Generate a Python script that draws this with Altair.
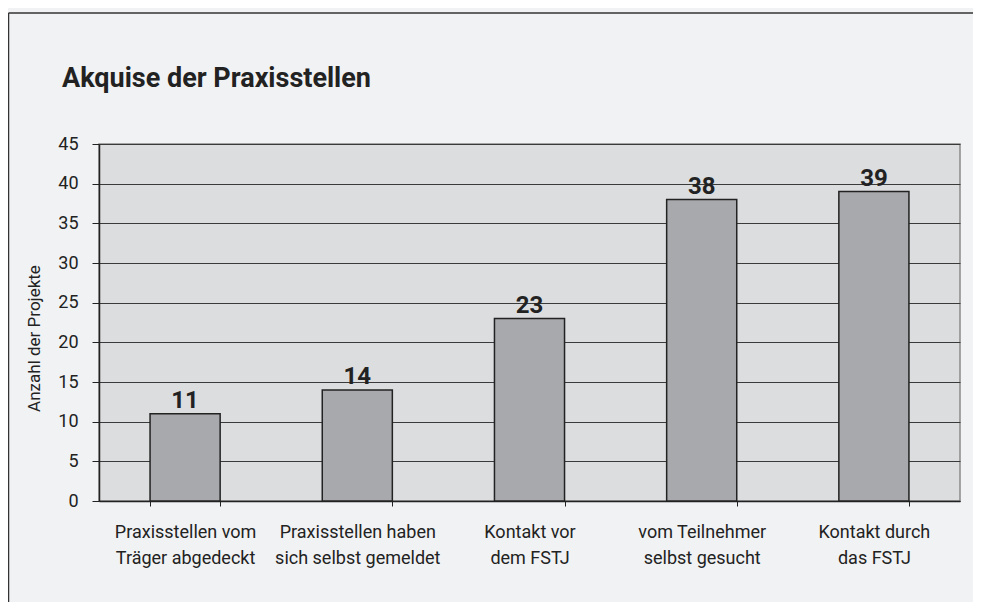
import altair as alt
import pandas as pd

categories = [
    "Praxisstellen vom\nTräger abgedeckt",
    "Praxisstellen haben\nsich selbst gemeldet",
    "Kontakt vor\ndem FSTJ",
    "vom Teilnehmer\nselbst gesucht",
    "Kontakt durch\ndas FSTJ",
]
values = [11, 14, 23, 38, 39]
title_text = "Akquise der Praxisstellen"
y_title = "Anzahl der Projekte"
y_ticks = [0, 5, 10, 15, 20, 25, 30, 35, 40, 45]

df = pd.DataFrame({"cat": categories, "val": values})

FONT = "Roboto, Liberation Sans, sans-serif"

x_enc = alt.X(
    "cat:N",
    sort=categories,
    title=None,
    scale=alt.Scale(paddingInner=0.593, paddingOuter=0.2965),
    axis=alt.Axis(
        labelAngle=0,
        labelExpr="split(datum.label, '\\n')",
        labelLineHeight=26,
        labelFontSize=18,
        labelColor="#222222",
        labelPadding=17,
        labelLimit=0,
        tickBand="extent",
        tickSize=5,
        tickColor="#222222",
        domainColor="#222222",
        domainWidth=1.5,
        grid=False,
    ),
)
y_enc = alt.Y(
    "val:Q",
    title=y_title,
    scale=alt.Scale(domain=[0, 45], nice=False),
    axis=alt.Axis(
        values=y_ticks,
        labelOverlap=False,
        labelFontSize=18,
        labelColor="#222222",
        labelPadding=14,
        tickSize=7,
        tickColor="#222222",
        domainColor="#222222",
        domainWidth=1.5,
        gridColor="#3a3a3a",
        gridWidth=1,
        titleFontSize=17,
        titleFontWeight="normal",
        titleColor="#222222",
        titleAngle=270,
        titleBaseline="alphabetic",
        titleAlign="center",
        titleX=-60,
        titleY=194,
    ),
)

base = alt.Chart(df)

bars = base.mark_bar(
    color="#a8a9ac", stroke="#222222", strokeWidth=1.5
).encode(x=x_enc, y=y_enc)

labels = base.mark_text(
    fontSize=24, fontWeight="bold", color="#222222", baseline="alphabetic", dy=-6, font=FONT
).encode(x=x_enc, y=y_enc, text="val:Q")

one = pd.DataFrame({"f": [0]})
frame_left = alt.Chart(one).mark_rule(stroke="#333333", strokeWidth=1.5).encode(
    x=alt.value(-90.5), y=alt.value(-131), y2=alt.value(3000)
)
frame_top = alt.Chart(one).mark_rule(stroke="#333333", strokeWidth=1.5).encode(
    y=alt.value(-131), x=alt.value(-90.5), x2=alt.value(3000)
)

chart = (
    alt.layer(bars, labels, frame_left, frame_top)
    .properties(
        width=861,
        height=357,
        title=alt.TitleParams(
            title_text,
            anchor="start",
            frame="group",
            fontSize=27,
            fontWeight="bold",
            color="#222222",
            font=FONT,
            dx=-37,
            offset=0,
            dy=102,
            baseline="alphabetic",
        ),
        autosize=alt.AutoSizeParams(type="none"),
        padding={"left": 91, "top": 136, "right": 13, "bottom": 101},
    )
    .configure(background="#f1f2f4", font=FONT)
    .configure_view(fill="#dcdddf", stroke="#8a8a8a", strokeWidth=1.5)
    .configure_axis(labelFont=FONT, titleFont=FONT)
)

chart.save("out.html", embed_options={"renderer": "svg", "actions": False})
